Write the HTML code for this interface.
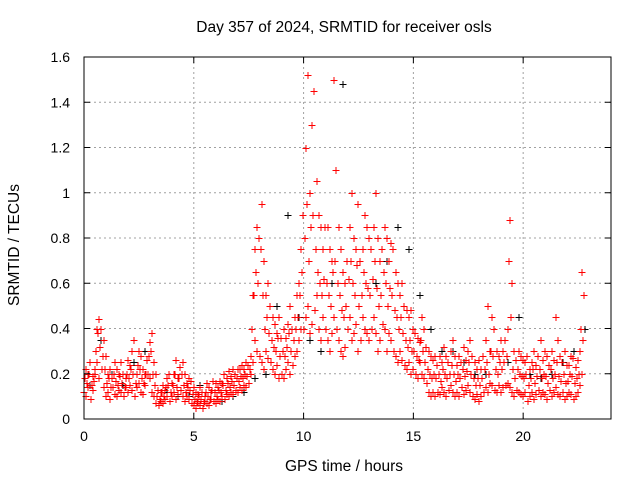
<!DOCTYPE html>
<html><head><meta charset="utf-8"><style>
html,body{margin:0;padding:0;background:#fff;}
svg{display:block;font-family:"Liberation Sans",sans-serif;}
</style></head><body>
<svg id="chart" width="640" height="480">
<g id="grid"></g>
<g id="marks"></g>
<g id="axes"></g>
<text x="344" y="32" text-anchor="middle" font-size="15.5">Day 357 of 2024, SRMTID for receiver osls</text>
<text x="344" y="471" text-anchor="middle" font-size="15.5">GPS time / hours</text>
<text x="0" y="0" transform="translate(19,245) rotate(-90)" text-anchor="middle" font-size="15.5">SRMTID / TECUs</text>
</svg>
<script>
const xTicks=[0,5,10,15,20];
const yTicks=[0,0.2,0.4,0.6,0.8,1,1.2,1.4,1.6];
const yTickLabels=["0","0.2","0.4","0.6","0.8","1","1.2","1.4","1.6"];
const timeStep=0.1;
const lowVals=[.12,.10,.14,.09,.13,.20,.25,.18,.22,.14,.10,.12,.09,.14,.11,.10,.13,.12,.10,.14,.12,.15,.13,.10,.14,.16,.12,.11,.15,.20,.18,.12,.10,.07,.06,.08,.07,.09,.10,.08,.10,.12,.09,.11,.13,.10,.08,.10,.09,.07,.06,.05,.07,.06,.05,.08,.07,.06,.09,.08,.07,.09,.08,.10,.09,.11,.10,.12,.11,.13,.12,.14,.13,.15,.14,.16,.20,.25,.35,.30,.28,.25,.22,.30,.27,.25,.22,.20,.24,.18,.20,.18,.22,.25,.20,.24,.28,.30,.35,.40,.40,.45,.50,.38,.42,.48,.55,.40,.35,.45,.40,.35,.30,.38,.45,.40,.35,.30,.28,.32,.40,.45,.35,.38,.42,.30,.35,.45,.40,.38,.35,.40,.45,.38,.30,.35,.42,.40,.30,.38,.35,.30,.28,.25,.30,.26,.24,.22,.25,.20,.22,.20,.18,.25,.20,.18,.16,.12,.10,.12,.10,.12,.11,.14,.12,.10,.13,.15,.12,.10,.12,.10,.14,.11,.13,.15,.12,.10,.09,.11,.08,.10,.12,.14,.12,.16,.15,.13,.12,.15,.12,.14,.15,.16,.14,.12,.10,.13,.12,.11,.10,.12,.08,.10,.12,.09,.11,.13,.10,.12,.11,.09,.13,.10,.12,.14,.11,.10,.12,.09,.10,.12,.11,.09,.10,.12,.15,.20];
const midVals=[.18,.16,.20,.15,.17,.30,.38,.32,.28,.22,.16,.18,.14,.20,.17,.15,.19,.16,.14,.20,.18,.22,.20,.16,.24,.22,.18,.16,.20,.28,.30,.20,.15,.10,.09,.12,.10,.14,.15,.12,.15,.20,.14,.18,.20,.15,.12,.14,.13,.11,.09,.08,.10,.09,.07,.12,.10,.09,.13,.12,.10,.13,.12,.15,.13,.16,.14,.17,.15,.18,.17,.19,.18,.20,.19,.22,.40,.55,.65,.60,.75,.55,.40,.45,.38,.35,.32,.30,.36,.28,.30,.28,.32,.38,.30,.35,.40,.45,.55,.65,.80,.95,.70,.85,.90,.75,.65,.60,.55,.62,.60,.55,.50,.65,.70,.60,.55,.48,.45,.50,.62,.70,.60,.55,.68,.50,.55,.65,.60,.58,.55,.62,.70,.58,.50,.55,.65,.60,.50,.58,.55,.48,.45,.40,.45,.38,.35,.32,.35,.30,.30,.28,.26,.35,.30,.25,.22,.20,.18,.20,.18,.20,.17,.22,.20,.18,.20,.24,.20,.17,.20,.18,.22,.19,.21,.25,.20,.18,.15,.18,.15,.18,.22,.25,.20,.30,.28,.22,.20,.25,.22,.25,.28,.70,.45,.22,.18,.22,.20,.19,.18,.20,.15,.18,.22,.16,.19,.22,.18,.20,.19,.16,.22,.18,.20,.25,.19,.17,.20,.16,.17,.20,.19,.16,.18,.20,.40,.35];
const highVals=[.22,.20,.25,.19,.22,.40,.44,.40,.35,.28,.20,.22,.18,.25,.22,.20,.25,.20,.18,.26,.24,.30,.35,.20,.30,.28,.22,.20,.26,.34,.38,.25,.20,.13,.12,.15,.13,.18,.20,.16,.20,.26,.18,.23,.25,.20,.16,.18,.17,.14,.12,.11,.14,.12,.10,.16,.14,.12,.17,.16,.14,.17,.16,.20,.18,.21,.19,.22,.20,.22,.22,.24,.22,.25,.24,.28,.55,.75,.85,.80,.95,.70,.55,.60,.50,.45,.42,.38,.45,.36,.40,.36,.42,.50,.40,.45,.55,.60,.75,.90,1.20,1.52,1.00,1.30,1.45,1.05,.90,.85,.75,.85,.85,.75,.70,1.50,1.10,.85,.75,.65,.60,.70,.85,1.00,.80,.75,.95,.70,.75,.90,.85,.80,.75,.85,1.00,.80,.70,.75,.85,.80,.70,.78,.75,.65,.60,.55,.60,.50,.48,.45,.48,.40,.38,.36,.34,.45,.40,.32,.30,.28,.26,.28,.24,.28,.25,.32,.28,.25,.30,.35,.28,.24,.28,.25,.32,.26,.30,.35,.28,.25,.22,.26,.22,.28,.35,.50,.30,.45,.40,.30,.28,.35,.30,.35,.40,.88,.60,.30,.26,.30,.28,.26,.25,.28,.22,.25,.30,.24,.28,.35,.26,.30,.28,.24,.30,.26,.45,.35,.28,.25,.30,.24,.24,.28,.27,.23,.26,.30,.65,.55];
const blackStep=0.5;
const blackVals=[.15,.35,.2,.15,.25,.3,.2,.12,.1,.1,.15,.12,.08,.1,.12,.18,.2,.5,.9,.45,.35,.3,.6,1.48,.8,.9,.6,.7,.85,.75,.55,.4,.3,.3,.25,.2,.2,.3,.25,.45,.2,.18,.2,.25,.3,.4];

const L=84,R=611,T=57,B=419,XMAX=24,YMAX=1.6;
const xs=v=>L+(R-L)*v/XMAX;
const ys=v=>B-(B-T)*v/YMAX;
const NS="http://www.w3.org/2000/svg";
function mk(tag,attrs,parent){const e=document.createElementNS(NS,tag);for(const k in attrs)e.setAttribute(k,attrs[k]);parent.appendChild(e);return e;}
const grid=document.getElementById('grid'),axes=document.getElementById('axes'),marks=document.getElementById('marks');
xTicks.forEach(t=>{
  const x=xs(t);
  if(t>0){const g=mk('line',{x1:x,x2:x,y1:T,y2:B,stroke:'#a0a0a0','stroke-dasharray':'2,3','stroke-width':1},grid);
  
  }
  mk('line',{x1:x,x2:x,y1:B,y2:B-6,stroke:'#000'},axes);
  mk('line',{x1:x,x2:x,y1:T,y2:T+6,stroke:'#000'},axes);
  const lb=mk('text',{x:x,y:B+22,'text-anchor':'middle','font-size':14},axes);
  lb.textContent=t;
  
  
});
yTicks.forEach((t,i)=>{
  const y=ys(t);
  if(t>0&&t<YMAX){const g=mk('line',{x1:L,x2:R,y1:y,y2:y,stroke:'#a0a0a0','stroke-dasharray':'2,3','stroke-width':1},grid);
  
  }
  mk('line',{x1:L,x2:L+6,y1:y,y2:y,stroke:'#000'},axes);
  mk('line',{x1:R,x2:R-6,y1:y,y2:y,stroke:'#000'},axes);
  const lb=mk('text',{x:L-14,y:y+5,'text-anchor':'end','font-size':14},axes);
  lb.textContent=yTickLabels[i];
  
  
});
const frame=mk('rect',{x:L,y:T,width:R-L,height:B-T,fill:'none',stroke:'#000'},axes);


function plus(t,v,col,off){
  const x=Math.round(xs(t))+off+0.5,y=Math.round(ys(v))+0.5;
  const p=mk('path',{d:`M${x-3},${y}h7M${x+0.5},${y-3.5}v7`,stroke:col,'stroke-width':1,fill:'none'},marks);
  
  
}
blackVals.forEach((v,i)=>plus(i*blackStep+0.25,v,'#000',0));
[lowVals,midVals,highVals].forEach((arr,k)=>arr.forEach((v,i)=>plus(i*timeStep,v,'#ff0000',k-1)));
</script>
</body></html>
